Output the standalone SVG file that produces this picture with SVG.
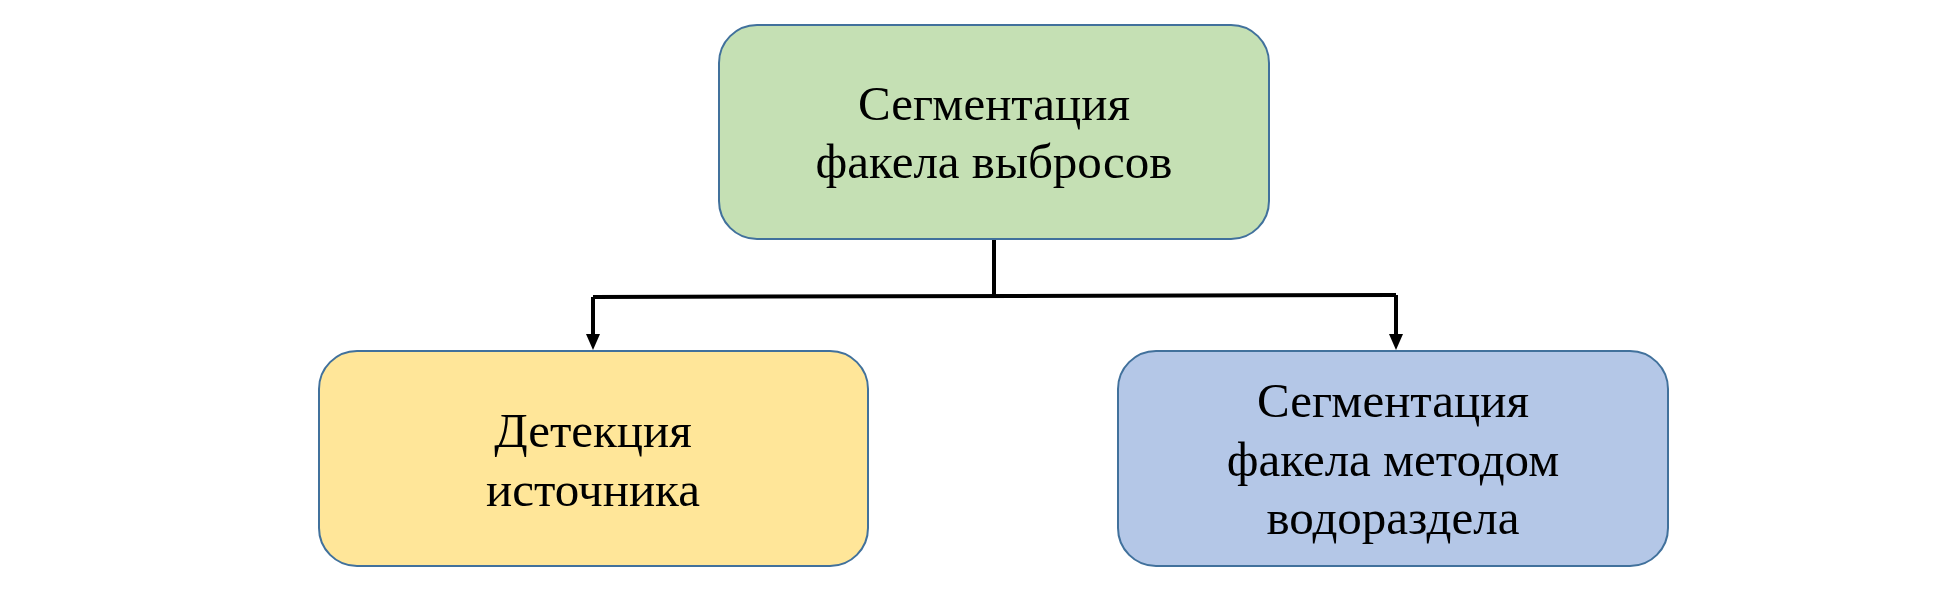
<svg xmlns="http://www.w3.org/2000/svg" width="1955" height="600" viewBox="0 0 1955 600">
  <defs>
    <style>
      .box { stroke: #41719C; stroke-width: 2; }
      .lbl { font-family: "Liberation Serif", "Times New Roman", serif; font-size: 49px; fill: #000; text-anchor: middle; }
      .conn { stroke: #000; stroke-width: 4; fill: none; }
      .head { fill: #000; }
    </style>
  </defs>
  <rect width="1955" height="600" fill="#fff"/>
  <g id="connectors">
    <path class="conn" d="M994,240 L994,296"/>
    <path class="conn" d="M593,297 L1396,295"/>
    <path class="conn" d="M593,297 L593,334"/>
    <path class="head" d="M586,334 L600,334 L593,350 Z"/>
    <path class="conn" d="M1396,295 L1396,334"/>
    <path class="head" d="M1389,334 L1403,334 L1396,350 Z"/>
  </g>
  <g id="node-top">
    <rect class="box" x="719" y="25" width="550" height="214" rx="38" ry="38" fill="#C5E0B4"/>
    <text class="lbl" x="994" y="120">Сегментация</text>
    <text class="lbl" x="994" y="178">факела выбросов</text>
  </g>
  <g id="node-left">
    <rect class="box" x="319" y="351" width="549" height="215" rx="38" ry="38" fill="#FFE699"/>
    <text class="lbl" x="593" y="447">Детекция</text>
    <text class="lbl" x="593" y="506">источника</text>
  </g>
  <g id="node-right">
    <rect class="box" x="1118" y="351" width="550" height="215" rx="38" ry="38" fill="#B4C7E7"/>
    <text class="lbl" x="1393" y="417">Сегментация</text>
    <text class="lbl" x="1393" y="476">факела методом</text>
    <text class="lbl" x="1393" y="534">водораздела</text>
  </g>
</svg>
